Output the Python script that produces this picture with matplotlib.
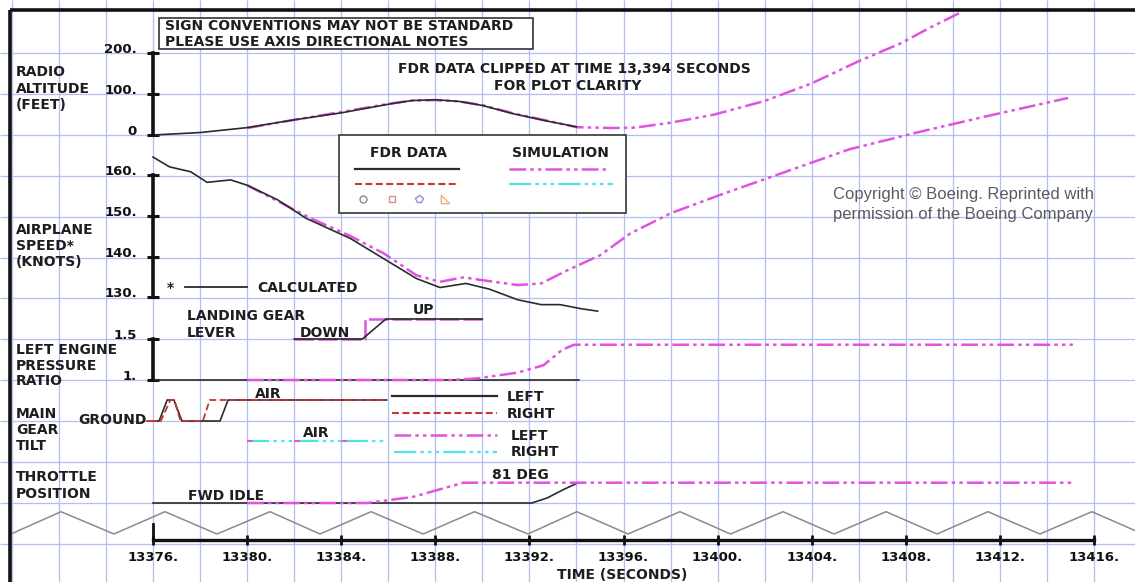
import matplotlib.pyplot as plt
from matplotlib.patches import Rectangle

# ---- data -------------------------------------------------------------
time_ticks = [13376, 13380, 13384, 13388, 13392, 13396, 13400, 13404, 13408, 13412, 13416]
time_labels = [f"{t}." for t in time_ticks]
grid_times = list(range(13370, 13419, 2))

alt_ticks = [0, 100, 200]
alt_labels = ["0", "100.", "200."]
spd_ticks = [130, 140, 150, 160]
spd_labels = ["130.", "140.", "150.", "160."]
epr_ticks = [1.0, 1.5]
epr_labels = ["1.", "1.5"]

# radio altitude (ft)
alt_fdr_t = [13376.0, 13378.0, 13380.0, 13382.0, 13384.0, 13386.0, 13387.0, 13388.0,
             13389.0, 13390.0, 13391.3, 13392.75, 13394.0]
alt_fdr = [0, 6, 18, 37, 54, 75, 84, 86, 82, 72, 52, 34, 20]
alt_sim_t = [13380.0, 13382.0, 13384.0, 13386.0, 13387.0, 13388.0, 13389.0, 13390.0,
             13391.3, 13392.75, 13394.0, 13395.6, 13396.5, 13398.0, 13399.8, 13402.0,
             13404.0, 13406.0, 13407.8, 13409.0, 13410.3]
alt_sim = [17, 37, 56, 76, 84, 85, 82, 73, 53, 35, 19, 17, 18, 30, 49, 83,
           126, 180, 224, 261, 298]

# airplane speed (kt)
spd_fdr_t = [13376.0, 13376.7, 13377.6, 13378.3, 13379.3, 13380.0, 13381.3, 13382.5,
             13384.4, 13385.8, 13387.2, 13388.2, 13389.3, 13390.3, 13391.5, 13392.5,
             13393.3, 13394.2, 13394.9]
spd_fdr = [164.4, 162.0, 160.8, 158.2, 158.8, 157.5, 153.9, 149.4, 144.4, 139.5,
           134.6, 132.4, 133.4, 132.0, 129.4, 128.2, 128.2, 127.2, 126.6]
spd_sim_t = [13380.0, 13382.7, 13384.4, 13385.8, 13387.2, 13388.2, 13389.2, 13390.0,
             13391.5, 13392.5, 13393.6, 13395.0, 13396.3, 13398.0, 13400.1, 13402.7,
             13405.6, 13408.6, 13411.5, 13414.9]
spd_sim = [157.5, 149.4, 145.0, 140.8, 135.4, 133.8, 134.9, 134.2, 133.0, 133.4,
           136.6, 140.3, 145.7, 150.6, 155.1, 160.4, 166.3, 170.6, 174.5, 178.9]

# landing gear lever (0 = down, 1 = up)
lever_fdr_t = [13382.0, 13384.9, 13385.9, 13390.0]
lever_fdr = [0, 0, 1, 1]
lever_sim_t = [13382.0, 13385.0, 13385.0, 13390.0]
lever_sim = [0, 0, 1, 1]

# left engine pressure ratio
epr_fdr_t = [13376.0, 13394.1]
epr_fdr = [1.0, 1.0]
epr_sim_t = [13380.0, 13388.7, 13389.8, 13391.5, 13392.6, 13393.4, 13393.9, 13415.1]
epr_sim = [1.0, 1.0, 1.02, 1.09, 1.18, 1.37, 1.43, 1.43]

# main gear tilt (0 = ground, 1 = air)
gear_l_t = [13376.0, 13376.26, 13376.6, 13376.89, 13377.23, 13378.85, 13379.19, 13385.93]
gear_l = [0, 0, 1, 1, 0, 0, 1, 1]
gear_r_t = [13375.85, 13376.33, 13376.74, 13376.9, 13377.17, 13378.12, 13378.41, 13385.93]
gear_r = [0, 0, 1, 1, 0, 0, 1, 1]
gear_sim_t = [13380.0, 13385.93]
gear_sim = [1, 1]

# throttle position (0 = fwd idle, 1 = 81 deg)
thr_fdr_t = [13376.0, 13392.1, 13392.76, 13393.41, 13394.07]
thr_fdr = [0, 0, 0.25, 0.64, 1.0]
thr_sim_t = [13380.0, 13385.1, 13387.05, 13389.2, 13415.1]
thr_sim = [0, 0, 0.3, 1.0, 1.0]

# zigzag trace along the time axis
wave_t = [13369.96, 13372.09, 13374.34, 13376.51, 13378.72, 13380.97, 13383.1, 13385.27,
          13387.48, 13389.67, 13391.94, 13394.02, 13396.19, 13398.4, 13400.55, 13402.78,
          13404.95, 13407.16, 13409.33, 13411.49, 13413.7, 13415.91, 13418.08]
wave = [0, 1] * 11 + [0]

# ---- layout ------------------------------------------------------------
W, H = 1135, 582
T_AXIS = 13376.0
X_AXIS, PX_PER_S = 153.0, 23.525
T_LEFT = T_AXIS - X_AXIS / PX_PER_S
T_RIGHT = T_AXIS + (W - X_AXIS) / PX_PER_S

BLACK = "#2b2b2b"
MAGENTA = "#e052e0"
CYAN = "#4fe3e8"
RED = "#c93434"
GRID = "#b0bef2"
SIM_DASH = (0, (12, 3, 2.5, 3, 2.5, 3))
CYAN_DASH = (0, (16, 3, 2.5, 3, 2.5, 3, 2.5, 3))
RED_DASH = (0, (5, 2.5))

plt.rcParams["font.family"] = "DejaVu Sans"
plt.rcParams["font.weight"] = "bold"
plt.rcParams["lines.scale_dashes"] = False

fig = plt.figure(figsize=(W / 100, H / 100), dpi=100)
fig.patch.set_facecolor("white")

# grid axes: time across, pixel rows down
base = fig.add_axes([0, 0, 1, 1])
base.set_xlim(T_LEFT, T_RIGHT)
base.set_ylim(H, 0)
base.axis("off")
grid_rows = [53 + 40.9 * k for k in range(13)]
base.vlines(grid_times, 0, H, color=GRID, lw=0.9)
base.hlines(grid_rows, T_LEFT, T_RIGHT, color=GRID, lw=0.9)


def channel(v0, y0, v1, y1):
    # full-figure transparent axes; value v0 at pixel row y0, v1 at row y1
    a = fig.add_axes([0, 0, 1, 1])
    a.set_xlim(T_LEFT, T_RIGHT)
    k = (v1 - v0) / (y0 - y1)
    a.set_ylim(v0 - (H - y0) * k, v0 + y0 * k)
    a.patch.set_visible(False)
    for s in a.spines.values():
        s.set_visible(False)
    a.tick_params(bottom=False, labelbottom=False, left=False, labelleft=False)
    return a


def scale_bar(a, ticks, labels):
    sp = a.spines["left"]
    sp.set_visible(True)
    sp.set_position(("data", T_AXIS))
    sp.set_bounds(ticks[0], ticks[-1])
    sp.set_linewidth(2.6)
    sp.set_color("#111111")
    a.set_yticks(ticks, labels)
    a.tick_params(axis="y", left=True, labelleft=True, direction="inout",
                  length=8, width=2.2, pad=7.5, labelsize=9.5, colors="#111111")
    for lbl in a.get_yticklabels():
        lbl.set_verticalalignment("baseline")


alt_ax = channel(0, 135, 200, 53)
scale_bar(alt_ax, alt_ticks, alt_labels)
alt_ax.plot(alt_sim_t, alt_sim, color=MAGENTA, lw=1.8, ls=SIM_DASH)
alt_ax.plot(alt_fdr_t, alt_fdr, color=BLACK, lw=1.2)

spd_ax = channel(130, 297.3, 160, 175)
scale_bar(spd_ax, spd_ticks, spd_labels)
spd_ax.plot(spd_sim_t, spd_sim, color=MAGENTA, lw=1.8, ls=SIM_DASH)
spd_ax.plot(spd_fdr_t, spd_fdr, color=BLACK, lw=1.2)

epr_ax = channel(1.0, 380, 1.5, 339)
scale_bar(epr_ax, epr_ticks, epr_labels)
epr_ax.plot(epr_fdr_t, epr_fdr, color=BLACK, lw=1.2)
epr_ax.plot(epr_sim_t, epr_sim, color=MAGENTA, lw=1.8, ls=SIM_DASH)

lever_ax = channel(0, 339, 1, 319)
lever_ax.plot(lever_sim_t, lever_sim, color=MAGENTA, lw=1.8, ls=(0, (14, 3)))
lever_ax.plot(lever_fdr_t, lever_fdr, color=BLACK, lw=1.2)

gear_ax = channel(0, 421, 1, 400)
gear_ax.plot(gear_l_t, gear_l, color=BLACK, lw=1.2)
gear_ax.plot(gear_r_t, gear_r, color=RED, lw=1.3, ls=RED_DASH)

gear_sim_ax = channel(0, 462, 1, 441)
gear_sim_ax.plot(gear_sim_t, gear_sim, color=CYAN, lw=1.6, ls=CYAN_DASH)
gear_sim_ax.plot(gear_sim_t, gear_sim, color=MAGENTA, lw=1.4, ls=(0, (4, 30)))

thr_ax = channel(0, 503, 1, 482.7)
thr_ax.plot(thr_fdr_t, thr_fdr, color=BLACK, lw=1.2)
thr_ax.plot(thr_sim_t, thr_sim, color=MAGENTA, lw=1.8, ls=SIM_DASH)

wave_ax = channel(0, 534, 1, 511.7)
wave_ax.plot(wave_t, wave, color="#8a8a8a", lw=1.1)

time_ax = channel(0, 539.5, 1, 520)
sp = time_ax.spines["bottom"]
sp.set_visible(True)
sp.set_position(("data", 0))
sp.set_bounds(time_ticks[0], time_ticks[-1])
sp.set_linewidth(2.4)
sp.set_color("#111111")
time_ax.set_xticks(time_ticks, time_labels)
time_ax.tick_params(axis="x", bottom=True, labelbottom=True, direction="inout",
                    length=7, width=2.0, pad=4.5, labelsize=9.5, colors="#111111")
# the first tick is drawn taller on the original plot
time_ax.plot([T_AXIS, T_AXIS], [0, 0.8], color="#111111", lw=2.0)

# ---- paper layer: frame, boxes, annotations (pixel coordinates) ----------
pp = fig.add_axes([0, 0, 1, 1])
pp.set_xlim(0, W)
pp.set_ylim(H, 0)
pp.axis("off")
pp.plot([10, W], [10, 10], color="#111111", lw=2.6, solid_capstyle="butt")
pp.plot([10, 10], [10, H], color="#111111", lw=2.6, solid_capstyle="butt")

TXT = dict(fontsize=10, color="#1e1e1e", va="center")
pp.add_patch(Rectangle((159, 18), 374, 31, fc="white", ec="#333333", lw=1.2))
pp.text(165, 25.5, "SIGN CONVENTIONS MAY NOT BE STANDARD", ha="left", **TXT)
pp.text(165, 41.5, "PLEASE USE AXIS DIRECTIONAL NOTES", ha="left", **TXT)
pp.text(574, 69, "FDR DATA CLIPPED AT TIME 13,394 SECONDS", ha="center", **TXT)
pp.text(568, 85.5, "FOR PLOT CLARITY", ha="center", **TXT)

for y, s in [(72.5, "RADIO"), (89, "ALTITUDE"), (105, "(FEET)"),
             (230, "AIRPLANE"), (246.5, "SPEED*"), (262, "(KNOTS)"),
             (349.5, "LEFT ENGINE"), (365.5, "PRESSURE"), (381, "RATIO"),
             (413.5, "MAIN"), (430.5, "GEAR"), (446, "TILT"),
             (477, "THROTTLE"), (494, "POSITION")]:
    pp.text(16, y, s, ha="left", **TXT)

# legend box
pp.add_patch(Rectangle((339, 135), 287, 78, fc="white", ec="#444444", lw=1.3))
pp.text(408, 153, "FDR DATA", ha="center", **TXT)
pp.text(560, 153, "SIMULATION", ha="center", **TXT)
pp.plot([355, 459], [169, 169], color=BLACK, lw=1.6)
pp.plot([355, 459], [183.5, 183.5], color=RED, lw=1.5, ls=RED_DASH)
pp.plot([509, 609], [169, 169], color=MAGENTA, lw=1.8, ls=SIM_DASH)
pp.plot([509, 613], [183.5, 183.5], color=CYAN, lw=1.6, ls=CYAN_DASH)
pp.plot([363], [198.5], marker="o", ms=5, mfc="none", mec="#8c8c8c", mew=1)
pp.plot([392], [198.5], marker="s", ms=5, mfc="none", mec="#e08a8a", mew=1)
pp.plot([419], [198.5], marker="p", ms=5.5, mfc="none", mec="#8f8fd6", mew=1)
pp.plot([445], [198.5], marker=[(-1, -1), (1, -1), (-1, 1), (-1, -1)], ms=6,
        mfc="none", mec="#f0b070", mew=1)

# calculated-speed note
pp.text(170, 288, "*", ha="center", **TXT)
pp.plot([185, 247], [287, 287], color=BLACK, lw=1.3)
pp.text(257, 288, "CALCULATED", ha="left", **TXT)

# lever / gear / throttle annotations
pp.text(187, 316.5, "LANDING GEAR", ha="left", **TXT)
pp.text(187, 333, "LEVER", ha="left", **TXT)
pp.text(325, 333, "DOWN", ha="center", **TXT)
pp.text(423, 310, "UP", ha="center", **TXT)
pp.text(268, 394, "AIR", ha="center", **TXT)
pp.text(316, 433, "AIR", ha="center", **TXT)
pp.text(147, 419.5, "GROUND", ha="right", **TXT)
pp.plot([147, 154], [421, 421], color=RED, lw=1.3)
pp.plot([392, 497], [396, 396], color=BLACK, lw=1.6)
pp.plot([392, 497], [412.5, 412.5], color=RED, lw=1.5, ls=RED_DASH)
pp.plot([394, 497], [435, 435], color=MAGENTA, lw=1.8, ls=SIM_DASH)
pp.plot([394, 497], [452, 452], color=CYAN, lw=1.6, ls=CYAN_DASH)
pp.text(507, 397, "LEFT", ha="left", **TXT)
pp.text(507, 413.5, "RIGHT", ha="left", **TXT)
pp.text(511, 436, "LEFT", ha="left", **TXT)
pp.text(511, 452.5, "RIGHT", ha="left", **TXT)
pp.text(226, 496.5, "FWD IDLE", ha="center", **TXT)
pp.text(520, 475, "81 DEG", ha="center", **TXT)
pp.text(557, 575, "TIME (SECONDS)", ha="left", **TXT)

pp.text(833, 195, "Copyright \u00a9 Boeing. Reprinted with", ha="left", va="center",
        fontsize=12, fontweight="normal", color="#5c5c5c", family="Liberation Sans")
pp.text(833, 215, "permission of the Boeing Company", ha="left", va="center",
        fontsize=12, fontweight="normal", color="#5c5c5c", family="Liberation Sans")

fig.savefig("out.png", dpi=100)
